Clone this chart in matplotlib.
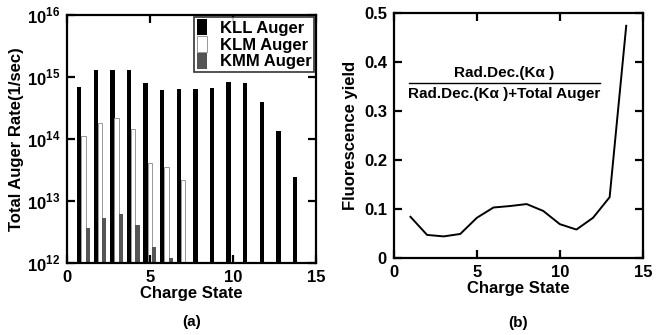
import numpy as np
import matplotlib
matplotlib.use("Agg")
import matplotlib.pyplot as plt
from matplotlib.ticker import FixedLocator, FuncFormatter

plt.rcParams['font.family'] = ['Liberation Sans', 'DejaVu Sans']
plt.rcParams['font.weight'] = 'bold'
plt.rcParams['mathtext.fontset'] = 'custom'
plt.rcParams['mathtext.rm'] = 'Liberation Sans:bold'
plt.rcParams['mathtext.bf'] = 'Liberation Sans:bold'

# (a) Auger rates vs charge state
kll_q = [1, 2, 3, 4, 5, 6, 7, 8, 9, 10, 11, 12, 13, 14]
kll = [6.8e14, 1.3e15, 1.32e15, 1.28e15, 7.9e14, 6.2e14, 6.3e14,
       6.3e14, 6.7e14, 8.4e14, 8.1e14, 4.0e14, 1.35e14, 2.3e13]
klm_q = [1, 2, 3, 4, 5, 6, 7]
klm = [1.12e14, 1.8e14, 2.15e14, 1.43e14, 4.1e13, 3.6e13, 2.2e13]
kmm_q = [1, 2, 3, 4, 5, 6]
kmm = [3.6e12, 5.3e12, 6.2e12, 4.1e12, 1.8e12, 1.2e12]

# (b) fluorescence yield
fy_q = [1, 2, 3, 4, 5, 6, 7, 8, 9, 10, 11, 12, 13, 14]
fy = [0.084, 0.047, 0.044, 0.049, 0.082, 0.103, 0.106, 0.110,
      0.096, 0.069, 0.058, 0.082, 0.124, 0.474]

fig = plt.figure(figsize=(6.71, 3.35), dpi=100)
ax1 = fig.add_axes([0.100, 0.215, 0.371, 0.740])
ax2 = fig.add_axes([0.587, 0.230, 0.371, 0.731])

w = 0.26
q = np.array(kll_q, dtype=float)
ax1.bar(q - 0.27, kll, width=w, bottom=1e12, color='black', label='KLL Auger')
ax1.bar(np.array(klm_q) - 0.02, np.array(klm) - 1e12, width=w, bottom=1e12,
        color='white', edgecolor='#888888', linewidth=0.6, label='KLM Auger')
ax1.bar(np.array(kmm_q) + 0.24, np.array(kmm) - 1e12, width=w, bottom=1e12,
        color='#555555', label='KMM Auger')
ax1.set_yscale('log')
ax1.set_ylim(1e12, 1e16)
ax1.set_xlim(0, 15)
ax1.yaxis.set_major_locator(FixedLocator([1e12, 1e13, 1e14, 1e15, 1e16]))
ax1.yaxis.set_minor_locator(FixedLocator([]))
ax1.yaxis.set_major_formatter(FuncFormatter(lambda v, p: '$10^{%d}$' % round(np.log10(v))))
ax1.set_xticks([0, 5, 10, 15])
ax1.set_xlabel('Charge State', fontsize=12, fontweight='bold', labelpad=1)
ax1.set_ylabel('Total Auger Rate(1/sec)', fontsize=12, fontweight='bold', labelpad=2)
leg = ax1.legend(loc='upper right', fontsize=12, frameon=True, fancybox=False,
                 borderpad=0.15, labelspacing=0.0, handlelength=0.6, handleheight=1.1,
                 handletextpad=0.8, borderaxespad=0.1)
leg.get_frame().set_edgecolor('black')
leg.get_frame().set_linewidth(1.2)
ax1.text(0.5, -0.255, '(a)', transform=ax1.transAxes, ha='center', fontsize=11, fontweight='bold')

ax2.plot(fy_q, fy, color='black', linewidth=1.4)
ax2.set_xlim(0, 15)
ax2.set_ylim(0, 0.5)
ax2.set_xticks([0, 5, 10, 15])
ax2.set_yticks([0, 0.1, 0.2, 0.3, 0.4, 0.5])
ax2.set_yticklabels(['0', '0.1', '0.2', '0.3', '0.4', '0.5'])
ax2.set_xlabel('Charge State', fontsize=12, fontweight='bold', labelpad=1)
ax2.set_ylabel('Fluorescence yield', fontsize=12, fontweight='bold', labelpad=4)
ax2.plot([0.9, 12.4], [0.357, 0.357], color='black', linewidth=1.0)
ax2.text(6.65, 0.364, 'Rad.Dec.(Kα )', ha='center', va='bottom', fontsize=11, fontweight='bold')
ax2.text(6.65, 0.349, 'Rad.Dec.(Kα )+Total Auger', ha='center', va='top', fontsize=11, fontweight='bold')
ax2.text(0.5, -0.28, '(b)', transform=ax2.transAxes, ha='center', fontsize=11, fontweight='bold')

for ax in (ax1, ax2):
    for s in ax.spines.values():
        s.set_linewidth(1.6)
    ax.tick_params(axis='both', which='major', direction='in', length=6, width=1.6,
                   labelsize=12, top=True, right=True, pad=5)
    for lab in ax.get_xticklabels() + ax.get_yticklabels():
        lab.set_fontweight('bold')

fig.savefig('out.png', dpi=100)
